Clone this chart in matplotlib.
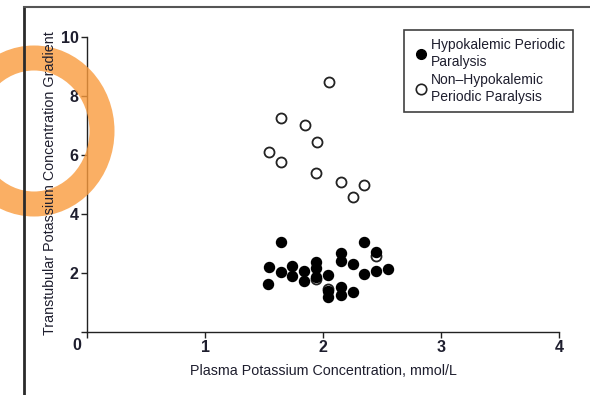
"""Transtubular potassium gradient vs plasma potassium, HPP vs non-HPP."""

import matplotlib.pyplot as plt
from matplotlib.lines import Line2D
from matplotlib.patches import Ellipse

plt.rcParams["font.family"] = ["Liberation Sans Narrow", "Liberation Sans", "DejaVu Sans"]

INK = "#1e1e2e"

# Hypokalemic periodic paralysis (filled markers)
hpp_k = [1.64, 1.54, 1.64, 1.74, 1.74, 1.84, 1.84, 1.94, 1.94, 1.94, 2.04, 2.04, 2.04,
         1.53, 2.35, 2.15, 2.15, 2.25, 2.45, 2.45, 2.35, 2.55, 2.15, 2.15, 2.25]
hpp_ttkg = [3.04, 2.19, 2.03, 2.25, 1.89, 2.06, 1.74, 2.36, 2.16, 1.85, 1.92, 1.39, 1.20,
            1.62, 3.04, 2.69, 2.42, 2.31, 2.70, 2.08, 1.97, 2.15, 1.54, 1.25, 1.35]

# Non-hypokalemic periodic paralysis (open markers)
non_k = [2.05, 1.64, 1.85, 1.95, 1.545, 1.64, 1.94, 2.15, 2.35, 2.255, 1.94, 2.04, 2.45]
non_ttkg = [8.48, 7.25, 7.02, 6.43, 6.11, 5.75, 5.38, 5.08, 4.99, 4.57, 1.80, 1.47, 2.56]

x_ticks = [0, 1, 2, 3, 4]
y_ticks = [0, 2, 4, 6, 8, 10]

fig = plt.figure(figsize=(5.9, 3.95), dpi=100)
ax = fig.add_axes([87 / 590, 1 - 332 / 395, (559 - 87) / 590, (332 - 37) / 395])

ax.scatter(non_k, non_ttkg, s=52, facecolors="white", edgecolors="#222222",
           linewidths=1.3, zorder=2, clip_on=False)
ax.scatter(hpp_k, hpp_ttkg, s=52, color="black", zorder=3, clip_on=False)

ax.set_xlim(0, 4)
ax.set_ylim(0, 10)
ax.set_xticks(x_ticks)
ax.set_xticklabels([""] + [str(t) for t in x_ticks[1:]])
ax.set_yticks(y_ticks)
ax.set_yticklabels([""] + [str(t) for t in y_ticks[1:]])
ax.text(-0.09, -0.45, "0", ha="center", va="center", fontsize=11.5,
        color=INK, fontweight="bold")
ax.tick_params(axis="both", length=4, width=1, color="#222222",
               labelsize=11.5, labelcolor=INK, pad=2)
for lab in ax.get_xticklabels() + ax.get_yticklabels():
    lab.set_fontweight("bold")

for side in ("top", "right"):
    ax.spines[side].set_visible(False)
for side in ("left", "bottom"):
    ax.spines[side].set_linewidth(1)
    ax.spines[side].set_color("#222222")

ax.set_xlabel("Plasma Potassium Concentration, mmol/L", fontsize=10.3, color=INK, labelpad=6)
fig.text(50 / 590, 1 - 183 / 395, "Transtubular Potassium Concentration Gradient",
         rotation=90, ha="center", va="center", fontsize=10.3, color=INK)

handles = [
    Line2D([], [], marker="o", linestyle="", markerfacecolor="black",
           markeredgecolor="black", markersize=7),
    Line2D([], [], marker="o", linestyle="", markerfacecolor="white",
           markeredgecolor="#222222", markeredgewidth=1.2, markersize=7.5),
]
leg = fig.legend(handles, ["Hypokalemic Periodic\nParalysis",
                           "Non–Hypokalemic\nPeriodic Paralysis"],
                 loc="upper right", bbox_to_anchor=(573 / 590, 1 - 30 / 395),
                 fontsize=10, frameon=True, fancybox=False, borderaxespad=0,
                 handletextpad=0.1, handlelength=1.2, borderpad=0.6,
                 labelspacing=0.35, labelcolor=INK)
leg.get_frame().set_edgecolor("#111111")
leg.get_frame().set_linewidth(1.2)

# page border along the top and left edges
fig.add_artist(Line2D([24 / 590, 24 / 590], [0, 1 - 7 / 395],
                      transform=fig.transFigure, color="#2a2a2a", linewidth=2))
fig.add_artist(Line2D([24 / 590, 1], [1 - 7 / 395, 1 - 7 / 395],
                      transform=fig.transFigure, color="#555555", linewidth=1.5))

# orange highlight ring
fig.add_artist(Ellipse((0.34, (395 - 131) / 100), 1.36, 1.46,
                       transform=fig.dpi_scale_trans, fill=False,
                       edgecolor="#F99B3D", alpha=0.8, linewidth=18))

fig.savefig("out.png", dpi=100)
